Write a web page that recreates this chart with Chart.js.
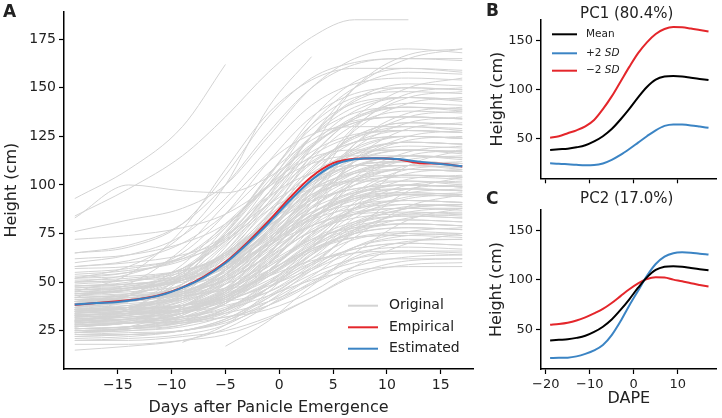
<!DOCTYPE html>
<html>
<head>
<meta charset="utf-8">
<script src="https://cdn.jsdelivr.net/npm/chart.js@4.4.1/dist/chart.umd.min.js"></script>
<style>
  body { margin: 0; background: #fff; }
  #wrap { position: relative; width: 722px; height: 418px; overflow: hidden; }
  canvas { position: absolute; }
</style>
</head>
<body>
<div id="wrap">
  <canvas id="chartA" width="480" height="418" style="left:0;top:0"></canvas>
  <canvas id="chartB" width="242" height="200" style="left:480px;top:0"></canvas>
  <canvas id="chartC" width="242" height="233" style="left:480px;top:185px"></canvas>
</div>
<script>
// panel A: individual height curves (grey)
const days = [-19, -14, -9, -5, -1, 3, 7, 12, 17];
const originalCurves = [
  [30, 31, 36, 45, 63, 83, 95, 100, 99],
  [35, 37, 42, 54, 75, 99, 114, 120, 119],
  [28, 29, 30, 35, 47, 62, 79, 88, 90],
  [40, 44, 55, 75, 102, 125, 137, 140, 139],
  [25, 26, 29, 36, 49, 62, 72, 75, 74],
  [33, 34, 36, 42, 56, 75, 96, 108, 110],
  [45, 47, 52, 64, 85, 109, 124, 130, 129],
  [38, 40, 47, 58, 73, 86, 93, 95, 94],
  [22, 23, 25, 31, 42, 54, 62, 65, 64],
  [50, 54, 65, 85, 112, 135, 147, 150, 149],
  [30, 31, 32, 37, 47, 60, 75, 83, 85],
  [36, 37, 42, 51, 68, 88, 100, 105, 104],
  [42, 43, 45, 51, 64, 82, 102, 113, 115],
  [27, 29, 35, 46, 60, 72, 78, 80, 79],
  [32, 34, 39, 52, 76, 102, 118, 125, 124],
  [48, 49, 51, 58, 74, 96, 119, 132, 135],
  [20, 20, 22, 25, 32, 42, 53, 59, 60],
  [55, 57, 63, 78, 104, 134, 153, 160, 159],
  [34, 37, 44, 56, 74, 88, 96, 98, 97],
  [29, 31, 36, 47, 68, 91, 106, 112, 111],
  [40, 41, 44, 51, 63, 76, 85, 88, 88],
  [26, 27, 29, 34, 47, 64, 83, 93, 95],
  [44, 46, 52, 66, 91, 120, 138, 145, 144],
  [37, 40, 49, 65, 87, 106, 116, 118, 117],
  [31, 32, 34, 40, 49, 60, 67, 70, 69],
  [24, 25, 27, 33, 47, 67, 88, 100, 102],
  [52, 55, 63, 79, 99, 117, 126, 128, 127],
  [39, 40, 45, 54, 71, 91, 103, 108, 107],
  [60, 64, 74, 93, 119, 141, 152, 155, 154],
  [33, 34, 38, 46, 61, 77, 88, 92, 91],
  [28, 29, 32, 39, 55, 78, 102, 115, 118],
  [46, 48, 54, 65, 79, 92, 98, 100, 99],
  [35, 37, 43, 56, 81, 108, 125, 132, 131],
  [23, 23, 25, 29, 38, 50, 63, 71, 72],
  [41, 43, 47, 59, 79, 102, 116, 122, 121],
  [30, 33, 41, 56, 77, 94, 103, 105, 104],
  [65, 69, 80, 100, 127, 150, 162, 165, 164],
  [36, 37, 38, 42, 51, 64, 77, 85, 86],
  [27, 29, 33, 45, 65, 88, 102, 108, 107],
  [43, 44, 46, 51, 64, 81, 100, 110, 112],
  [32, 33, 36, 42, 54, 67, 75, 78, 77],
  [38, 40, 46, 60, 85, 113, 131, 138, 137],
  [18, 18, 20, 23, 31, 42, 54, 61, 62],
  [50, 51, 55, 65, 82, 101, 113, 118, 117],
  [34, 35, 36, 41, 53, 68, 85, 94, 96],
  [29, 31, 38, 50, 66, 79, 86, 88, 87],
  [47, 48, 51, 59, 77, 103, 130, 145, 148],
  [25, 26, 30, 39, 56, 74, 85, 90, 89],
  [40, 43, 53, 70, 93, 112, 122, 125, 124],
  [31, 33, 38, 49, 70, 94, 109, 115, 114],
  [37, 38, 41, 47, 58, 71, 79, 82, 81],
  [54, 56, 61, 73, 94, 119, 134, 140, 139],
  [21, 22, 25, 31, 43, 56, 65, 68, 67],
  [44, 46, 53, 65, 81, 95, 102, 104, 103],
  [35, 36, 40, 49, 70, 98, 129, 147, 150],
  [30, 31, 32, 36, 43, 51, 56, 58, 58],
  [42, 43, 44, 49, 59, 73, 88, 96, 98],
  [26, 27, 31, 39, 53, 70, 80, 84, 83],
  [58, 61, 70, 85, 106, 123, 133, 135, 134],
  [33, 34, 36, 43, 59, 81, 104, 117, 120],
  [39, 41, 47, 58, 72, 84, 90, 92, 91],
  [28, 29, 34, 44, 62, 82, 95, 100, 99],
  [48, 50, 57, 72, 100, 131, 150, 158, 157],
  [36, 36, 38, 41, 48, 57, 68, 74, 75],
  [24, 27, 37, 54, 77, 97, 107, 110, 109],
  [45, 46, 51, 60, 78, 98, 110, 115, 114],
  [93, 108, 130, 162, null, null, null, null, null],
  [84, 98, 115, 135, 158, 176, 185, 185, null],
  [83, 100, 97, 96, 104, 120, 135, 140, 138],
  [76, 82, 88, 100, 125, 150, 165, 170, 168],
  [72, 74, 78, 85, 100, 125, 150, 165, 170],
  [65, 68, 80, 105, 135, 155, 163, 165, 165],
  [62, 64, 70, 80, 100, 125, 140, 145, 143],
  [58, 60, 64, 72, 90, 115, 135, 150, 155],
  [null, null, 19, 28, 45, 65, 75, 78, 77],
  [null, null, null, 17, 30, 48, 62, 66, 66],
  [15, 17, 20, 26, 38, 52, 60, 62, 62],
  [20, 21, 23, 28, 40, 56, 68, 72, 72],
  [52, 58, 74, 100, 140, 166, null, null, null],
  [32, 33, 38, 47, 65, 85, 97, 102, 101],
  [38, 39, 42, 49, 65, 88, 112, 125, 128],
  [27, 29, 34, 43, 56, 67, 73, 74, 73],
  [43, 47, 57, 75, 100, 121, 132, 135, 134],
  [29, 30, 34, 44, 60, 79, 90, 95, 94],
  [35, 37, 41, 52, 71, 93, 107, 112, 111],
  [41, 41, 43, 47, 56, 68, 81, 89, 90],
  [24, 25, 28, 36, 50, 66, 76, 80, 79],
  [50, 51, 53, 59, 73, 91, 112, 123, 125],
  [33, 35, 42, 57, 84, 115, 134, 142, 141],
  [37, 40, 46, 59, 76, 91, 98, 100, 99],
  [30, 34, 44, 63, 89, 111, 122, 125, 124],
  [46, 47, 51, 60, 75, 93, 104, 108, 107],
  [22, 23, 25, 30, 42, 58, 76, 86, 88],
  [39, 41, 45, 56, 76, 98, 112, 118, 117],
  [34, 35, 38, 45, 58, 72, 81, 84, 83],
  [53, 55, 62, 74, 90, 103, 110, 112, 111],
  [28, 29, 32, 40, 59, 85, 113, 129, 132],
  [40, 41, 45, 54, 71, 89, 100, 105, 104],
  [31, 32, 36, 43, 53, 61, 65, 66, 65],
  [36, 40, 53, 75, 105, 131, 145, 148, 147],
  [26, 27, 32, 42, 60, 80, 93, 98, 97],
  [44, 46, 51, 62, 83, 107, 122, 128, 127],
  [33, 34, 35, 40, 50, 64, 80, 88, 90],
  [38, 41, 49, 64, 84, 101, 110, 112, 111],
  [57, 58, 62, 71, 91, 119, 150, 167, 170],
  [48, 49, 52, 58, 70, 83, 92, 95, 94],
  [25, 26, 28, 35, 49, 69, 91, 103, 105],
  [42, 44, 51, 66, 94, 125, 144, 152, 151],
  [30, 31, 34, 41, 54, 68, 77, 80, 79],
  [35, 36, 38, 43, 55, 71, 88, 98, 100],
  [30, 36, 52, 74, 94, 106, 110, 110, 108],
  [36, 37, 37, 40, 45, 57, 73, 89, 95],
  [42, 49, 67, 90, 112, 126, 130, 130, 128],
  [28, 29, 29, 32, 38, 49, 65, 82, 88],
  [33, 35, 40, 53, 76, 102, 119, 125, 124],
  [38, 41, 49, 63, 81, 98, 106, 108, 107],
  [45, 54, 77, 108, 137, 154, 160, 160, 158],
  [26, 27, 30, 36, 47, 59, 67, 70, 69],
  [32, 33, 36, 45, 64, 91, 121, 137, 140],
  [40, 41, 45, 53, 68, 85, 96, 100, 99],
  [35, 37, 43, 54, 69, 82, 88, 90, 89],
  [29, 36, 54, 78, 100, 114, 118, 118, 116],
  [47, 49, 53, 64, 82, 103, 117, 122, 121],
  [23, 24, 25, 30, 40, 53, 68, 76, 78],
  [39, 43, 55, 76, 105, 129, 142, 145, 144],
  [34, 35, 35, 38, 45, 59, 77, 97, 104],
  [51, 52, 56, 64, 79, 95, 106, 110, 109],
  [27, 30, 37, 51, 70, 86, 94, 96, 95],
  [44, 45, 48, 55, 72, 96, 121, 135, 138],
  [31, 32, 35, 42, 55, 69, 78, 82, 81],
  [37, 43, 59, 80, 99, 111, 115, 115, 113],
  [25, 26, 30, 40, 56, 75, 87, 92, 91],
  [43, 46, 56, 73, 96, 115, 125, 128, 127],
  [30, 30, 31, 34, 40, 49, 58, 63, 64],
  [36, 38, 44, 57, 81, 108, 125, 132, 131],
  [40, 42, 47, 56, 69, 79, 85, 86, 85],
  [33, 34, 36, 42, 56, 74, 95, 106, 108],
  [49, 51, 57, 71, 96, 125, 143, 150, 149],
  [28, 34, 49, 69, 87, 98, 102, 102, 100],
  [35, 36, 38, 44, 54, 66, 73, 76, 75],
  [41, 42, 43, 46, 53, 68, 89, 110, 118],
  [24, 26, 33, 45, 62, 76, 83, 85, 84],
  [38, 40, 45, 56, 77, 101, 116, 122, 121],
  [46, 47, 50, 57, 70, 84, 93, 96, 95],
  [32, 36, 47, 68, 96, 120, 132, 135, 134],
  [29, 29, 30, 32, 36, 45, 58, 70, 75],
  [52, 53, 56, 63, 80, 103, 128, 142, 145],
  [34, 37, 46, 61, 82, 100, 110, 112, 111],
  [39, 40, 44, 52, 67, 83, 94, 98, 97],
  [27, 29, 34, 46, 68, 93, 109, 115, 114]
];

// mean curves, every 2 days
const meanDays = [-19, -17, -15, -13, -11, -9, -7, -5, -3, -1, 1, 3, 5, 7, 9, 11, 13, 15, 17];
const empirical = [38.3, 39.3, 40.2, 41.3, 43.5, 47.3, 52.8, 60.3, 70.2, 81.3, 93.5, 104.2, 111.2, 113.5, 113.8, 113.2, 111.2, 110.9, 109.5];
const estimated = [38.5, 39.2, 39.8, 41.2, 43.3, 47.2, 52.5, 59.8, 69.5, 80.3, 92, 102.5, 110, 113.2, 113.8, 113.3, 112, 110.8, 109.6];

// panels B and C: mean +/- 2 SD of the first two components
const pc1Plus = [25, 24.6, 24, 23.4, 23, 23.2, 24.8, 28.5, 33.5, 39.5, 46, 52.5, 58.5, 63, 64.5, 64.3, 63.5, 62.3, 61];
const pc1Minus = [51, 52.5, 55.5, 58.5, 62.5, 69, 80, 93, 108, 123, 137, 148, 156.5, 161.5, 163.5, 163.3, 162, 160.5, 159];
const pc2Plus = [20.8, 21, 21.2, 22.5, 25, 28.5, 34, 44, 58, 74, 89, 104, 116, 123.5, 127, 127.8, 127.5, 126.5, 125.7];
const pc2Minus = [54.5, 55.3, 56.6, 58.8, 62, 66, 70.5, 76.5, 83.5, 90.5, 96.5, 100.8, 102.5, 102.3, 100.2, 98.5, 96.5, 94.8, 93.2];

const daysTicksA = [-15, -10, -5, 0, 5, 10, 15];
const heightTicksA = [25, 50, 75, 100, 125, 150, 175];
const dapeTicks = [-20, -10, 0, 10];
const heightTicksPC = [50, 100, 150];

const RED = '#e4262b';
const BLUE = '#3b84c4';
const GREY = '#d3d3d3';
const FONT = '"DejaVu Sans", sans-serif';

function toPoints(xs, ys) {
    return xs.map((x, i) => ({x: x, y: ys[i]})).filter(p => p.y !== null);
}

function fmt(v) {
    return v < 0 ? '\u2212' + Math.abs(v) : String(v);
}

function line(data, color, width) {
    return {
        data: data,
        borderColor: color,
        borderWidth: width,
        pointRadius: 0,
        fill: false,
        cubicInterpolationMode: 'monotone'
    };
}

function makeScales(o) {
    const grid = {drawOnChartArea: false, drawTicks: true, tickLength: 5, tickWidth: 1.2, tickColor: '#000'};
    const border = {display: true, color: '#000', width: 1.5};
    return {
        x: {
            type: 'linear', min: o.xMin, max: o.xMax,
            afterBuildTicks: s => { s.ticks = o.xTicks.map(v => ({value: v})); },
            afterFit: s => { s.height = o.xHeight; },
            grid: grid, border: border,
            ticks: {
                font: {family: FONT, size: o.tickSize}, color: '#222', padding: 3, maxRotation: 0,
                callback: v => o.xLabels ? fmt(v) : ''
            },
            title: {
                display: !!o.xTitle, text: o.xTitle || '', color: '#222',
                font: {family: FONT, size: 16, lineHeight: 1.2},
                padding: {top: 0, bottom: o.xTitlePad || 0}
            }
        },
        y: {
            type: 'linear', min: o.yMin, max: o.yMax,
            afterBuildTicks: s => { s.ticks = o.yTicks.map(v => ({value: v})); },
            afterFit: s => { s.width = o.yWidth; },
            grid: grid, border: border,
            ticks: {font: {family: FONT, size: o.tickSize}, color: '#222', padding: 3, callback: fmt},
            title: {
                display: true, text: 'Height (cm)', color: '#222',
                font: {family: FONT, size: 16, lineHeight: 1.2},
                padding: {top: o.yTitlePad, bottom: 0}
            }
        }
    };
}

// text drawn straight on the canvas: panel letters, subplot titles, legends
function overlay(draw) {
    return {
        id: 'overlay',
        afterDraw(chart) {
            const ctx = chart.ctx;
            ctx.save();
            draw(ctx);
            ctx.restore();
        }
    };
}

function text(ctx, str, x, y, font, align) {
    ctx.font = font;
    ctx.fillStyle = '#222';
    ctx.textAlign = align || 'left';
    ctx.textBaseline = 'middle';
    ctx.fillText(str, x, y);
}

function legendLine(ctx, x1, x2, y, color) {
    ctx.strokeStyle = color;
    ctx.lineWidth = 2;
    ctx.beginPath();
    ctx.moveTo(x1, y);
    ctx.lineTo(x2, y);
    ctx.stroke();
}

function sdLabel(ctx, prefix, x, y) {
    ctx.font = '10.5px ' + FONT;
    ctx.fillStyle = '#222';
    ctx.textAlign = 'left';
    ctx.textBaseline = 'middle';
    ctx.fillText(prefix, x, y);
    const w = ctx.measureText(prefix).width;
    ctx.font = 'italic 10.5px ' + FONT;
    ctx.fillText('SD', x + w, y);
}

const baseOptions = {
    responsive: false,
    animation: false,
    devicePixelRatio: 1,
    plugins: {legend: {display: false}, tooltip: {enabled: false}}
};

// panel A
const greyData = originalCurves.map(c => line(toPoints(days, c), GREY, 1));
new Chart(document.getElementById('chartA'), {
    type: 'line',
    data: {
        datasets: [
            line(toPoints(meanDays, estimated), BLUE, 2),
            line(toPoints(meanDays, empirical), RED, 2)
        ].concat(greyData)
    },
    options: Object.assign({}, baseOptions, {
        layout: {padding: {left: 0, top: 5, right: 7, bottom: 0}},
        scales: makeScales({
            xMin: -20, xMax: 18, yMin: 5.3, yMax: 189.3,
            xTicks: daysTicksA, yTicks: heightTicksA,
            xHeight: 49, yWidth: 64, tickSize: 14, xLabels: true,
            xTitle: 'Days after Panicle Emergence', xTitlePad: 0.4, yTitlePad: 2
        })
    }),
    plugins: [overlay(ctx => {
        text(ctx, 'A', 3, 13, 'bold 17px ' + FONT);
        const rows = [['Original', GREY, 305.7], ['Empirical', RED, 327.3], ['Estimated', BLUE, 348.7]];
        rows.forEach(r => {
            legendLine(ctx, 348, 378, r[2], r[1]);
            text(ctx, r[0], 389, r[2], '14px ' + FONT);
        });
    })]
});

// panel B
new Chart(document.getElementById('chartB'), {
    type: 'line',
    data: {
        datasets: [
            line(toPoints(meanDays, estimated), '#000', 2),
            line(toPoints(meanDays, pc1Plus), BLUE, 2),
            line(toPoints(meanDays, pc1Minus), RED, 2)
        ]
    },
    options: Object.assign({}, baseOptions, {
        layout: {padding: {left: 0, top: 20, right: 5.3, bottom: 0}},
        scales: makeScales({
            xMin: -21.07, xMax: 18.86, yMin: 9.7, yMax: 170.7,
            xTicks: dapeTicks, yTicks: heightTicksPC,
            xHeight: 21.7, yWidth: 61, tickSize: 13, xLabels: false,
            yTitlePad: 8
        })
    }),
    plugins: [overlay(ctx => {
        text(ctx, 'B', 6, 12, 'bold 17px ' + FONT);
        text(ctx, 'PC1 (80.4%)', 146.7, 14, '15px ' + FONT, 'center');
        legendLine(ctx, 72, 97, 34.3, '#000');
        text(ctx, 'Mean', 106, 34.3, '10.5px ' + FONT);
        legendLine(ctx, 72, 97, 53.3, BLUE);
        sdLabel(ctx, '+2 ', 106, 53.3);
        legendLine(ctx, 72, 97, 70.7, RED);
        sdLabel(ctx, '\u22122 ', 106, 70.7);
    })]
});

// panel C
new Chart(document.getElementById('chartC'), {
    type: 'line',
    data: {
        datasets: [
            line(toPoints(meanDays, estimated), '#000', 2),
            line(toPoints(meanDays, pc2Plus), BLUE, 2),
            line(toPoints(meanDays, pc2Minus), RED, 2)
        ]
    },
    options: Object.assign({}, baseOptions, {
        layout: {padding: {left: 0, top: 25, right: 5.3, bottom: 0}},
        scales: makeScales({
            xMin: -21.07, xMax: 18.86, yMin: 9.7, yMax: 170.7,
            xTicks: dapeTicks, yTicks: heightTicksPC,
            xHeight: 49, yWidth: 61, tickSize: 13, xLabels: true,
            xTitle: 'DAPE', xTitlePad: 9.4, yTitlePad: 7.5
        })
    }),
    plugins: [overlay(ctx => {
        text(ctx, 'C', 6, 15, 'bold 17px ' + FONT);
        text(ctx, 'PC2 (17.0%)', 146.7, 14, '15px ' + FONT, 'center');
    })]
});
</script>
</body>
</html>
